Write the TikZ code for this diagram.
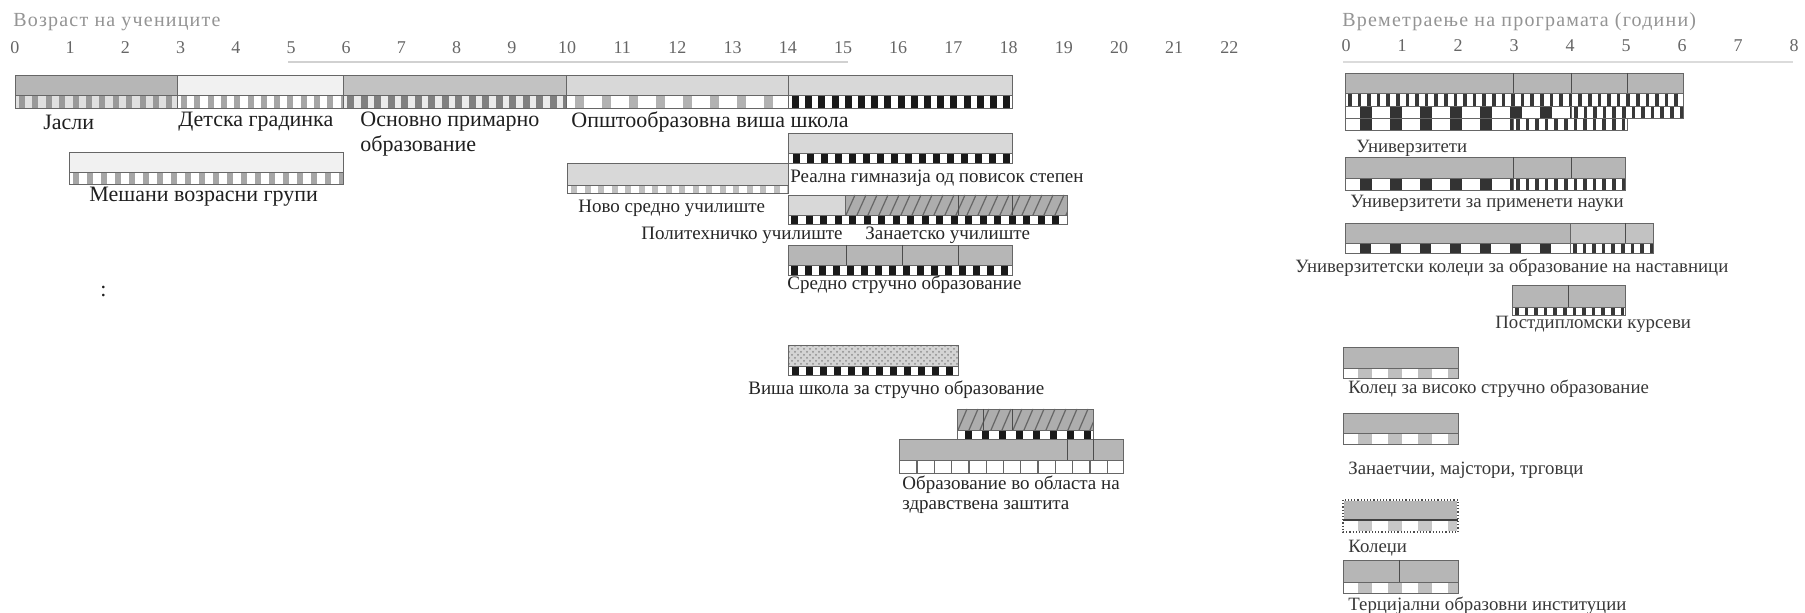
\documentclass[tikz,border=0pt]{standalone}
\usepackage{fontspec}
\setmainfont{Liberation Serif}
\newfontfamily\spacedserif[LetterSpace=6]{Liberation Serif}
\usetikzlibrary{patterns}
\definecolor{gdark}{HTML}{B6B6B6}
\definecolor{gmid}{HTML}{C2C2C2}
\definecolor{glight}{HTML}{D8D8D8}
\definecolor{gpale}{HTML}{F1F1F1}
\definecolor{ghatch}{HTML}{ADADAD}
\tikzset{
  boxline/.style={draw=black!60, line width=0.4pt},
  divline/.style={draw=black!70, line width=0.5pt},
  axisline/.style={draw=black!18, line width=1.2pt},
  biglbl/.style={font=\fontsize{11}{12}\selectfont, text=black!88, inner sep=0pt, anchor=west},
  midlbl/.style={font=\fontsize{9.5}{10}\selectfont, text=black!85, inner sep=0pt, anchor=west},
  smalllbl/.style={font=\fontsize{9.4}{10}\selectfont, text=black!78, inner sep=0pt, anchor=west},
  ticklbl/.style={font=\fontsize{9}{10}\selectfont, text=black!60, inner sep=0pt},
  ttllbl/.style={font=\spacedserif\fontsize{10}{11}\selectfont, text=black!42, inner sep=0pt, anchor=west},
}
% x1 x2 y1 y2 start period width colour background
\newcommand{\blockstrip}[9]{%
  \begin{scope}
    \clip (#1,#3) rectangle (#2,#4);
    \fill[#9] (#1,#3) rectangle (#2,#4);
    \pgfmathtruncatemacro{\nblk}{(#2-#1)/#6+1}
    \foreach \kk in {0,...,\nblk}{\fill[#8] ({#5+\kk*#6},#3) rectangle ({#5+\kk*#6+#7},#4);}
  \end{scope}
  \draw[boxline] (#1,#3) rectangle (#2,#4);}
% x1 x2 y1 y2 : small dark bars
\newcommand{\ladderstrip}[4]{\blockstrip{#1}{#2}{#3}{#4}{#1+3}{9.6}{3.6}{black!78}{white}}
% x1 x2 y1 y2 : hatched box
\newcommand{\hatchbox}[4]{%
  \begin{scope}
    \clip (#1,#3) rectangle (#2,#4);
    \fill[ghatch] (#1,#3) rectangle (#2,#4);
    \pgfmathtruncatemacro{\nh}{(#2-#1)/11+3}
    \foreach \kk in {0,...,\nh}{\draw[black!60, line width=0.6pt] ({#1-10+\kk*11},#4) -- ++(9,{#3-#4});}
  \end{scope}
  \draw[boxline] (#1,#3) rectangle (#2,#4);}
\begin{document}
\begin{tikzpicture}[x=0.5pt,y=-0.5pt]
\fill[white] (0,0) rectangle (1805,613);
\useasboundingbox (0,0) rectangle (1805,613);

% ---------------- left chart: axis
\node[ttllbl] (ltitle) at (13,22) {Возраст на учениците};
\foreach \i in {0,...,22}{\node[ticklbl] (la\i) at ({15+55.2*\i},48) {\i};}
\draw[axisline] (288,62) -- (848,62);

% row 1
\filldraw[boxline, fill=gdark] (15,75) rectangle (177,95);
\filldraw[boxline, fill=gpale] (177,75) rectangle (343,95);
\filldraw[boxline, fill=gmid] (343,75) rectangle (566,95);
\filldraw[boxline, fill=glight] (566,75) rectangle (788,95);
\filldraw[boxline, fill=glight] (788,75) rectangle (1012,95);
\blockstrip{15}{177}{95}{108}{19}{13.4}{6}{black!40}{black!12}
\blockstrip{177}{343}{95}{108}{181}{13.3}{6}{black!35}{white}
\blockstrip{343}{566}{95}{108}{347}{13.5}{7}{black!50}{black!8}
\blockstrip{566}{788}{95}{108}{575}{27}{9}{black!30}{white}
\blockstrip{788}{1012}{95}{108}{792}{13.2}{7}{black!90}{white}
\node[biglbl] (jasli) at (43,122) {Јасли};
\node[biglbl] (detska) at (178,122) {Детска градинка};
\node[biglbl] (osnovno) at (360,122) {Основно примарно};
\node[biglbl] (osnovno2) at (360,146) {образование};
\node[biglbl] (opsto) at (571,122) {Општообразовна виша школа};

% mixed age groups
\filldraw[boxline, fill=gpale] (69,152) rectangle (343,172);
\blockstrip{69}{343}{172}{184}{73}{14}{6}{black!35}{white}
\node[biglbl] (mesani) at (89,197) {Мешани возрасни групи};

% Realna gimnazija
\filldraw[boxline, fill=glight] (788,133) rectangle (1012,153);
\blockstrip{788}{1012}{153}{163}{793}{14}{7}{black!90}{white}
\node[midlbl] (realna) at (790,178) {Реална гимназија од повисок степен};

% Novo sredno
\filldraw[boxline, fill=glight] (567,163) rectangle (788,185);
\blockstrip{567}{788}{185}{193}{571}{13.5}{6}{black!25}{white}
\node[midlbl] (novo) at (578,208) {Ново средно училиште};

% Politehnicko / Zanaetsko
\filldraw[boxline, fill=glight] (788,195) rectangle (845,215);
\hatchbox{845}{1067}{195}{215}
\draw[divline] (958,195) -- (958,215);
\draw[divline] (1012,195) -- (1012,215);
\blockstrip{788}{1067}{215}{224}{791}{14.5}{7}{black!90}{white}
\node[midlbl] (polit) at (641,235) {Политехничко училиште};
\node[midlbl] (zanaet) at (865,235) {Занаетско училиште};

% Sredno strucno
\filldraw[boxline, fill=gdark] (788,245) rectangle (1012,265);
\draw[divline] (846,245) -- (846,265);
\draw[divline] (902,245) -- (902,265);
\draw[divline] (958,245) -- (958,265);
\blockstrip{788}{1012}{265}{275}{791}{14}{7}{black!90}{white}
\node[midlbl] (sredno) at (787,285) {Средно стручно образование};

\node[biglbl] (colon) at (100,292) {:};

% Visa skola
\filldraw[boxline, fill=black!17] (788,345) rectangle (958,366);
\fill[pattern=crosshatch dots, pattern color=black!45] (788,345) rectangle (958,366);
\draw[boxline] (788,345) rectangle (958,366);
\blockstrip{788}{958}{366}{375}{792}{14}{7}{black!90}{white}
\node[midlbl] (visa) at (748,390) {Виша школа за стручно образование};

% health
\hatchbox{957}{1093}{409}{430}
\draw[divline] (983,409) -- (983,430);
\draw[divline] (1012,409) -- (1012,430);
\blockstrip{957}{1093}{430}{439}{965}{17}{7}{black!90}{white}
\filldraw[boxline, fill=gdark] (899,439) rectangle (1123,460);
\draw[divline] (1067,439) -- (1067,460);
\draw[divline] (1093,439) -- (1093,460);
\blockstrip{899}{1123}{460}{473}{899}{17.3}{1.3}{black!60}{white}
\node[midlbl] (zdrav) at (902,485) {Образование во областа на};
\node[midlbl] (zdrav2) at (902,507) {здравствена заштита};

% ---------------- right chart: axis
\node[ttllbl] (rtitle) at (1342,22) {Времетраење на програмата (години)};
\foreach \i in {0,...,8}{\node[ticklbl] (ra\i) at ({1346+56*\i},46) {\i};}
\draw[axisline, draw=black!14] (1343,62) -- (1793,62);

% universities
\filldraw[boxline, fill=gdark] (1345,73) rectangle (1683,93);
\draw[divline] (1513,73) -- (1513,93);
\draw[divline] (1571,73) -- (1571,93);
\draw[divline] (1627,73) -- (1627,93);
\ladderstrip{1345}{1683}{93}{106}
\blockstrip{1345}{1571}{106}{118}{1360}{30}{12}{black!80}{white}
\ladderstrip{1571}{1683}{106}{118}
\blockstrip{1345}{1513}{118}{130}{1360}{30}{12}{black!80}{white}
\ladderstrip{1513}{1627}{118}{130}
\node[smalllbl] (univ) at (1356,148) {Универзитети};

% applied sciences
\filldraw[boxline, fill=gdark] (1345,157) rectangle (1625,178);
\draw[divline] (1513,157) -- (1513,178);
\draw[divline] (1571,157) -- (1571,178);
\blockstrip{1345}{1513}{178}{190}{1360}{30}{12}{black!80}{white}
\ladderstrip{1513}{1625}{178}{190}
\node[smalllbl] (prim) at (1350,203) {Универзитети за применети науки};

% teacher colleges
\filldraw[boxline, fill=gdark] (1345,223) rectangle (1570,243);
\filldraw[boxline, fill=gmid] (1570,223) rectangle (1653,243);
\draw[divline] (1625,223) -- (1625,243);
\blockstrip{1345}{1570}{243}{253}{1360}{30}{11}{black!80}{white}
\ladderstrip{1570}{1653}{243}{253}
\node[smalllbl] (nastav) at (1295,268) {Универзитетски колеџи за образование на наставници};

% postgraduate
\filldraw[boxline, fill=gdark] (1512,285) rectangle (1625,307);
\draw[divline] (1568,285) -- (1568,307);
\ladderstrip{1512}{1625}{307}{315}
\node[smalllbl] (postd) at (1495,324) {Постдипломски курсеви};

% college of higher vocational education
\filldraw[boxline, fill=gdark] (1343,347) rectangle (1458,368);
\blockstrip{1343}{1458}{368}{378}{1358}{30}{14}{black!25}{white}
\node[smalllbl] (kolvis) at (1348,389) {Колеџ за високо стручно образование};

% craftsmen
\filldraw[boxline, fill=gdark] (1343,413) rectangle (1458,433);
\blockstrip{1343}{1458}{433}{444}{1358}{30}{14}{black!25}{white}
\node[smalllbl] (zanaetc) at (1348,470) {Занаетчии, мајстори, трговци};

% colleges
\fill[gdark] (1343,500) rectangle (1458,520);
\blockstrip{1343}{1458}{520}{532}{1358}{30}{14}{black!22}{white}
\draw[white, line width=0.8pt] (1343,500) rectangle (1458,532);
\draw[black!70, densely dotted, line width=0.6pt] (1343,500) rectangle (1458,532);
\draw[black!75, line width=0.6pt] (1343,520) -- (1458,520);
\node[smalllbl] (koledzi) at (1348,548) {Колеџи};

% tertiary institutions
\filldraw[boxline, fill=gdark] (1343,560) rectangle (1458,582);
\draw[divline] (1399,560) -- (1399,582);
\blockstrip{1343}{1458}{582}{593}{1358}{30}{14}{black!25}{white}
\node[smalllbl] (terc) at (1348,606) {Терцијални образовни институции};
\end{tikzpicture}
\end{document}
